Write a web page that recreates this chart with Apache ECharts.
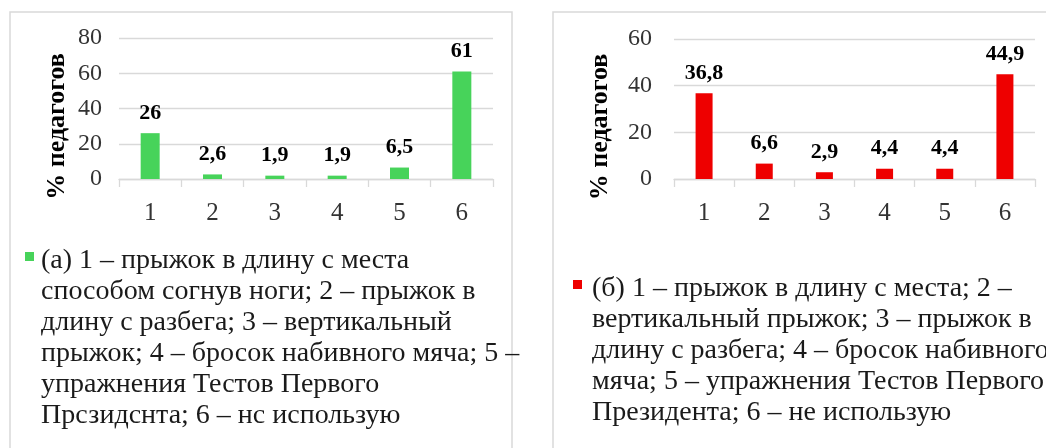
<!DOCTYPE html>
<html><head><meta charset="utf-8">
<script src="https://cdn.jsdelivr.net/npm/echarts@6/dist/echarts.min.js"></script>
<style>html,body{margin:0;padding:0;background:#fff}#c{width:1046px;height:448px}</style>
</head><body><div id="c"></div>
<script>
const categories = ['1','2','3','4','5','6'];
const valuesA = [26, 2.6, 1.9, 1.9, 6.5, 61];
const valuesB = [36.8, 6.6, 2.9, 4.4, 4.4, 44.9];
const ticksA = [0, 20, 40, 60, 80];
const ticksB = [0, 20, 40, 60];
const yTitle = '% педагогов';
const legendA = [
  '(а) 1 – прыжок в длину с места',
  'способом согнув ноги; 2 – прыжок в',
  'длину с разбега; 3 – вертикальный',
  'прыжок; 4 – бросок набивного мяча; 5 –',
  'упражнения Тестов Первого',
  'Прсзидснта; 6 – нс использую'
];
const legendB = [
  '(б) 1 – прыжок в длину с места; 2 –',
  'вертикальный прыжок; 3 – прыжок в',
  'длину с разбега; 4 – бросок набивного',
  'мяча; 5 – упражнения Тестов Первого',
  'Президента; 6 – не использую'
];

const FONT = 'Liberation Serif';
const LH = 31;
const GREEN = '#47d35a', RED = '#ee0000';

function fmtVal(v){ return String(v).replace('.', ','); }

function yAxis(idx, ticks, gap, margin){
  return {
    type: 'value', gridIndex: idx, min: ticks[0], max: ticks[ticks.length-1],
    interval: ticks[1]-ticks[0],
    axisLine: {show: false}, axisTick: {show: false},
    splitLine: {lineStyle: {color: '#d9d9d9', width: 1.3}},
    axisLabel: {fontFamily: FONT, fontSize: 24, color: '#333', margin: margin},
    name: yTitle, nameLocation: 'middle', nameGap: gap,
    nameTextStyle: {fontFamily: FONT, fontSize: 26, fontWeight: 'bold', color: '#000', padding: [0, 36, 0, 0]}
  };
}
function xAxis(idx){
  return {
    type: 'category', gridIndex: idx, data: categories,
    axisLine: {lineStyle: {color: '#d9d9d9', width: 1.3}},
    axisTick: {show: true, length: 8, lineStyle: {color: '#d9d9d9', width: 1.3}},
    axisLabel: {fontFamily: FONT, fontSize: 25, color: '#333', margin: 22}
  };
}
function legendGraphic(lines, iconX, iconY, textX, firstCenter, color){
  return {
    type: 'group', children: [
      {type: 'rect', shape: {x: iconX, y: iconY, width: 9, height: 9}, style: {fill: color}},
      {type: 'text', x: textX, y: firstCenter - LH/2,
       style: {text: lines.join('\n'), font: '28px ' + FONT, fill: '#1a1a1a', lineHeight: LH, verticalAlign: 'top'}}
    ]
  };
}

const chart = echarts.init(document.getElementById('c'));
chart.setOption({
  animation: false,
  backgroundColor: '#fff',
  textStyle: {fontFamily: FONT},
  graphic: [
    {type: 'rect', shape: {x: 10, y: 12, width: 502, height: 460}, style: {fill: 'none', stroke: '#d9d9d9', lineWidth: 1.5}, z: -1},
    {type: 'rect', shape: {x: 553, y: 12, width: 520, height: 460}, style: {fill: 'none', stroke: '#d9d9d9', lineWidth: 1.5}, z: -1},
    legendGraphic(legendA, 25, 252, 41, 261, GREEN),
    legendGraphic(legendB, 573, 280, 592, 289, RED)
  ],
  grid: [
    {left: 119, right: 553, top: 38, height: 141},
    {left: 674, right: 11, top: 39, height: 140}
  ],
  xAxis: [xAxis(0), xAxis(1)],
  yAxis: [yAxis(0, ticksA, 49, 17), yAxis(1, ticksB, 61, 22)],
  series: [
    {type: 'bar', name: legendA.join(' '), xAxisIndex: 0, yAxisIndex: 0, data: valuesA, barWidth: 19,
     itemStyle: {color: GREEN},
     label: {show: true, position: 'top', distance: 9, formatter: p => fmtVal(p.value),
             fontFamily: FONT, fontSize: 22, fontWeight: 'bold', color: '#000'}},
    {type: 'bar', name: legendB.join(' '), xAxisIndex: 1, yAxisIndex: 1, data: valuesB, barWidth: 17,
     itemStyle: {color: RED},
     label: {show: true, position: 'top', distance: 9, formatter: p => fmtVal(p.value),
             fontFamily: FONT, fontSize: 22, fontWeight: 'bold', color: '#000'}}
  ]
});
</script></body></html>
